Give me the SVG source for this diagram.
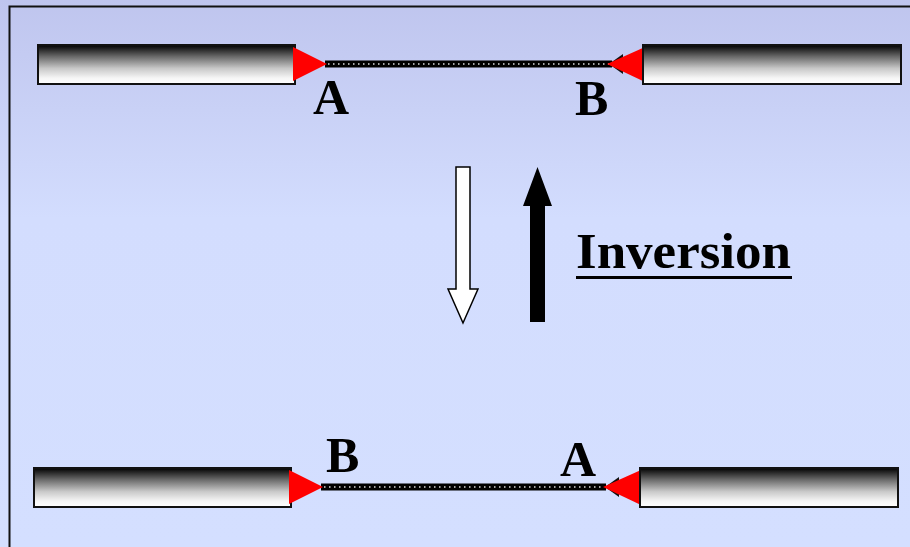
<svg xmlns="http://www.w3.org/2000/svg" width="910" height="547" viewBox="0 0 910 547">
  <defs>
    <linearGradient id="bg" x1="0" y1="0" x2="0" y2="1">
      <stop offset="0" stop-color="#bfc5ee"/>
      <stop offset="0.4" stop-color="#d3ddfe"/>
      <stop offset="1" stop-color="#d4dfff"/>
    </linearGradient>
    <linearGradient id="bar" x1="0" y1="0" x2="0" y2="1">
      <stop offset="0" stop-color="#000"/>
      <stop offset="0.3" stop-color="#6a6a6a"/>
      <stop offset="0.6" stop-color="#c8c8c8"/>
      <stop offset="0.85" stop-color="#f6f6f6"/>
      <stop offset="1" stop-color="#fff"/>
    </linearGradient>
    <style>
      .bar { fill: url(#bar); stroke: #111; stroke-width: 2; }
      .tri { fill: #ff0000; }
      .blk { fill: #111; }
      .rope { stroke: #000; stroke-width: 7; }
      .dots { stroke: #ddd; stroke-width: 1.5; stroke-dasharray: 1.5 3.5; }
      .lbl { font-family: "Liberation Serif", "Times New Roman", serif; font-weight: bold; font-size: 50px; fill: #000; }
    </style>
  </defs>
  <rect x="0" y="0" width="910" height="547" fill="url(#bg)"/>
  <path d="M9.5 547 V6.5 H910" fill="none" stroke="#111" stroke-width="2"/>

  <g id="connectors">
    <line class="rope" x1="325" y1="64" x2="612" y2="64"/>
    <line class="dots" x1="328" y1="64" x2="610" y2="64"/>
    <line class="rope" x1="321" y1="487" x2="606" y2="487"/>
    <line class="dots" x1="324" y1="487" x2="604" y2="487"/>
  </g>

  <g id="top-left">
    <rect class="bar" x="38" y="45" width="257" height="39"/>
    <polygon class="tri" points="293,47 327,64 293,81"/>
  </g>
  <g id="top-right">
    <polygon class="blk" points="623,54 623,74 609,64"/>
    <polygon class="tri" points="645,47 645,82 607,64"/>
    <rect class="bar" x="643" y="45" width="258" height="39"/>
  </g>
  <g id="label-top-A"><text class="lbl" x="313" y="114">A</text></g>
  <g id="label-top-B"><text class="lbl" x="575" y="115">B</text></g>

  <g id="bottom-left">
    <rect class="bar" x="34" y="468" width="257" height="39"/>
    <polygon class="tri" points="289,470 323,487 289,504"/>
  </g>
  <g id="bottom-right">
    <polygon class="blk" points="619,477 619,497 605,487"/>
    <polygon class="tri" points="641,470 641,505 603,487"/>
    <rect class="bar" x="640" y="468" width="258" height="39"/>
  </g>
  <g id="label-bottom-B"><text class="lbl" x="326" y="472">B</text></g>
  <g id="label-bottom-A"><text class="lbl" x="560" y="476">A</text></g>

  <g id="arrow-down">
    <polygon points="456,167 470,167 470,289 478,289 463,323 448,289 456,289" fill="#fff" stroke="#000" stroke-width="1.5" stroke-linejoin="miter"/>
  </g>
  <g id="arrow-up">
    <polygon points="530,322 545,322 545,206 552,206 537.5,167 523,206 530,206" fill="#000"/>
  </g>
  <g id="label-inversion">
    <text class="lbl" x="576" y="268" textLength="215" lengthAdjust="spacingAndGlyphs">Inversion</text>
    <rect x="576" y="276" width="216" height="3" fill="#000"/>
  </g>
</svg>
